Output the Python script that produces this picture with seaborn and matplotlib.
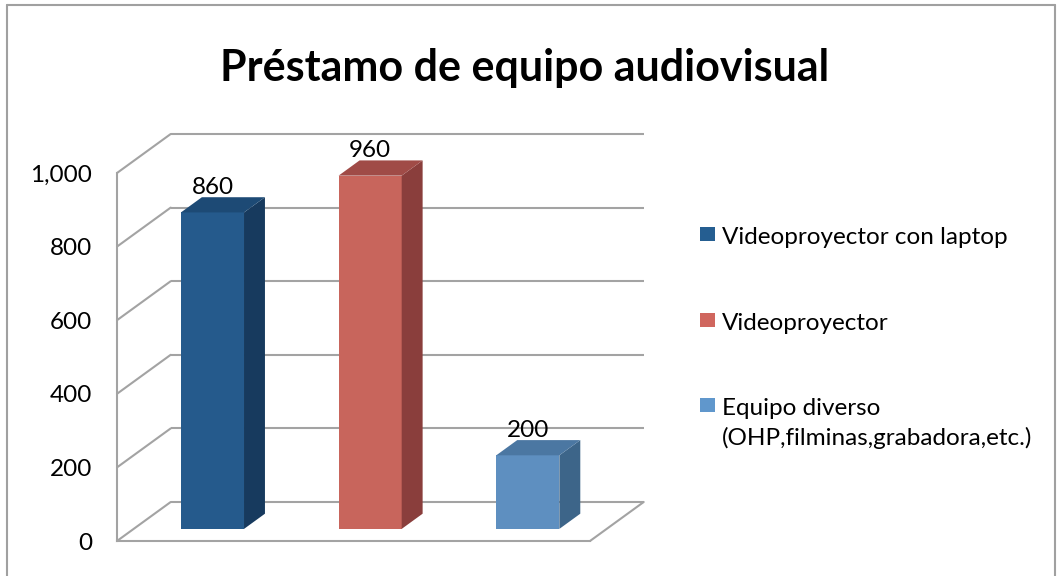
import matplotlib
matplotlib.use("Agg")
import matplotlib.pyplot as plt
import seaborn as sns
import pandas as pd
from matplotlib.patches import Polygon, Rectangle
from matplotlib.lines import Line2D
from matplotlib.ticker import StrMethodFormatter

# ---- data -------------------------------------------------------------
equipos = [
    "Videoproyector con laptop",
    "Videoproyector",
    "Equipo diverso\n(OHP,filminas,grabadora,etc.)",
]
prestamos = [860, 960, 200]
y_ticks = [0, 200, 400, 600, 800, 1000]
titulo = "Préstamo de equipo audiovisual"

# ---- colours ----------------------------------------------------------
front_colors = ["#255A8C", "#C8655C", "#5E8FC0"]
side_colors = ["#173A5E", "#8A3E3C", "#3D6589"]
top_colors = ["#1D4A75", "#A04B47", "#4B77A2"]
legend_colors = ["#255E91", "#D0665E", "#6097CC"]
GRID = "#A3A3A3"
LW = 1.5
FS = 17.5

sns.set_theme(style="white")
plt.rcParams["font.family"] = ["Lato", "DejaVu Sans"]

W, H = 1060, 576
fig = plt.figure(figsize=(W / 100, H / 100), dpi=100)
fig.patch.set_facecolor("white")


def px_rect(left, bottom_from_top, width, height):
    return [left / W, (H - bottom_from_top) / H, width / W, height / H]


# geometry of the oblique 3-D box (pixels)
FRONT_L, FRONT_B, PW, PH = 117, 541, 473, 368
DEPTH_PX = (53.7, 39.0)          # full depth of the floor
BAR_FRONT, BAR_DEPTH = 0.31, 0.39  # bar position / thickness along depth

n = len(equipos)
ddx = DEPTH_PX[0] / (PW / n)       # depth expressed in data units
ddy = DEPTH_PX[1] / (PH / y_ticks[-1])

# front plane: value axis, floor and walls
ax = fig.add_axes(px_rect(FRONT_L, FRONT_B, PW, PH))
ax.set_xlim(-0.5, n - 0.5)
ax.set_ylim(0, y_ticks[-1])
ax.set_facecolor("none")
ax.set_xticks([])
ax.set_yticks(y_ticks)
ax.yaxis.set_major_formatter(StrMethodFormatter("{x:,.0f}"))
ax.tick_params(axis="y", length=6 * 0.72, width=LW, color=GRID,
               pad=19 * 0.72, labelsize=FS, labelcolor="black")
for side in ("top", "right"):
    ax.spines[side].set_visible(False)
for side in ("left", "bottom"):
    ax.spines[side].set_color(GRID)
    ax.spines[side].set_linewidth(LW)

x_lo, x_hi = -0.5, n - 0.5
for v in y_ticks:
    # back wall gridline
    ax.plot([x_lo + ddx, x_hi + ddx], [v + ddy, v + ddy], color=GRID,
            lw=LW, clip_on=False, solid_capstyle="butt")
    # side wall diagonal
    ax.plot([x_lo, x_lo + ddx], [v, v + ddy], color=GRID, lw=LW,
            clip_on=False)
# right edge of the floor
ax.plot([x_hi, x_hi + ddx], [0, ddy], color=GRID, lw=LW, clip_on=False)

# bar plane, pushed back into the box
ax_bar = fig.add_axes(px_rect(FRONT_L + BAR_FRONT * DEPTH_PX[0],
                              FRONT_B - BAR_FRONT * DEPTH_PX[1], PW, PH))
df = pd.DataFrame({"equipo": equipos, "prestamos": prestamos})
sns.barplot(data=df, x="equipo", y="prestamos", hue="equipo",
            palette=front_colors, saturation=1, width=0.4, legend=False,
            linewidth=0, ax=ax_bar)
ax_bar.set_xlim(-0.5, n - 0.5)
ax_bar.set_ylim(0, y_ticks[-1])
ax_bar.axis("off")

bdx, bdy = BAR_DEPTH * ddx, BAR_DEPTH * ddy
for p in ax_bar.patches:
    x0, w, h = p.get_x(), p.get_width(), p.get_height()
    i = int(round(x0 + w / 2))
    x1 = x0 + w
    side = Polygon([(x1, 0), (x1 + bdx, bdy), (x1 + bdx, h + bdy), (x1, h)],
                   closed=True, facecolor=side_colors[i], edgecolor="none",
                   clip_on=False)
    top = Polygon([(x0, h), (x1, h), (x1 + bdx, h + bdy), (x0 + bdx, h + bdy)],
                  closed=True, facecolor=top_colors[i], edgecolor="none",
                  clip_on=False)
    ax_bar.add_patch(side)
    ax_bar.add_patch(top)
    p.set_clip_on(False)
    ax_bar.annotate(f"{h:.0f}", xy=(x0 + w / 2, h + bdy), xytext=(0, 3),
                    textcoords="offset pixels", ha="center", va="baseline",
                    fontsize=FS, color="black", annotation_clip=False)

# legend
LEG_X, LEG_TXT_X = 700, 722
leg_rows = [227, 313, 398]     # top of each swatch
for lab, col, top_y in zip(equipos, legend_colors, leg_rows):
    fig.patches.append(Rectangle((LEG_X / W, (H - top_y - 14) / H),
                                 15 / W, 14 / H, transform=fig.transFigure,
                                 facecolor=col, edgecolor="none"))
    for k, line in enumerate(lab.split("\n")):
        fig.text(LEG_TXT_X / W, (H - (top_y + 17 + 30 * k)) / H, line,
                 ha="left", va="baseline", fontsize=FS, color="black")

# title
fig.text(525 / W, (H - 81) / H, titulo, ha="center", va="baseline",
         fontsize=31, fontweight="bold", color="black")

# chart border
for xs, ys in (([7, 1055], [5, 5]), ([7, 7], [5, H + 5]),
               ([1055, 1055], [5, H + 5])):
    fig.add_artist(Line2D([x / W for x in xs], [(H - y) / H for y in ys],
                          transform=fig.transFigure, color="#A0A0A0", lw=1.5))

fig.savefig("out.png", dpi=100, facecolor="white")
